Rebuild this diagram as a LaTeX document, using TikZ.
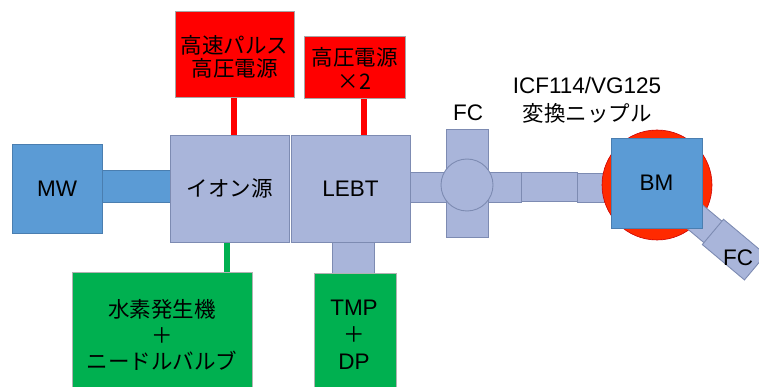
\documentclass[tikz,border=0pt]{standalone}
\usepackage{fontspec}
\usetikzlibrary{calc}
\setmainfont{Liberation Sans}
\newfontfamily\jp{Noto Sans CJK JP}
\definecolor{lav}{HTML}{A9B5DA}
\definecolor{lavline}{HTML}{7D8BB2}
\definecolor{bluebox}{HTML}{5B9BD5}
\definecolor{blueline}{HTML}{4A7EB0}
\definecolor{grn}{HTML}{00B050}
\definecolor{bmred}{HTML}{FF2A00}
\tikzset{
  lavbox/.style={draw=lavline, fill=lav, line width=0.9pt},
  bluepart/.style={draw=blueline, fill=bluebox, line width=0.9pt},
  redbox/.style={draw=gray!70, fill=red, line width=0.9pt},
  grnbox/.style={draw=gray!60, fill=grn, line width=0.9pt},
  lbl/.style={font=\fontsize{21.5}{25}\selectfont\jp, align=center, inner sep=0pt},
  lbllat/.style={font=\fontsize{22.5}{27}\selectfont, align=center, inner sep=0pt},
}
\begin{document}
\begin{tikzpicture}[x=1pt,y=-1pt]
\useasboundingbox (0,0) rectangle (759,387);
% red power supplies
\draw[red, line width=6pt] (234,97) -- (234,135);
\draw[red, line width=6pt] (364,98) -- (364,135);
\draw[grn, line width=6pt] (227,242) -- (227,272);
\node[redbox, minimum width=119pt, minimum height=86pt, inner sep=0pt] (hvp) at (234.5,54) {};
\node[lbl] at (234.5,56.5) {高速パルス\\[-2pt]高圧電源};
\node[redbox, minimum width=101pt, minimum height=62pt, inner sep=0pt] (hv2) at (354.5,67) {};
\node[lbl] at (354.5,68) {高圧電源\\[-1pt]×2};
% MW and waveguide
\node[bluepart, minimum width=68pt, minimum height=32pt, inner sep=0pt] (wg) at (136,186) {};
\node[bluepart, minimum width=90pt, minimum height=89pt, inner sep=0pt] (mw) at (57,188.5) {};
\node[lbllat] at (mw) {MW};
% ion source and LEBT
\node[lavbox, minimum width=119pt, minimum height=107pt, inner sep=0pt] (ion) at (229.5,188.5) {};
\node[lbl] at (ion) {イオン源};
\node[lavbox, minimum width=119pt, minimum height=107pt, inner sep=0pt] (lebt) at (350.5,188.5) {};
\node[lbllat] at (lebt) {LEBT};
% TMP port
\node[lavbox, minimum width=42pt, minimum height=31pt, inner sep=0pt] (port) at (353,257.5) {};
% green boxes
\node[grnbox, minimum width=180pt, minimum height=124pt, inner sep=0pt] (h2) at (162,334) {};
\node[lbl] at (162,335) {水素発生機\\[1pt]＋\\[1pt]ニードルバルブ};
\node[grnbox, minimum width=82pt, minimum height=123pt, inner sep=0pt] (tmp) at (355,334.5) {};
\node[lbllat] at (354,335) {TMP\\{\jp\fontsize{21.5}{27}\selectfont ＋}\\DP};
% beam line pipes
\node[lavbox, minimum width=111pt, minimum height=30pt, inner sep=0pt] (p1) at (465.5,187) {};
\node[lavbox, minimum width=42pt, minimum height=108pt, inner sep=0pt] (fcv) at (467,183) {};
\node[lavbox, circle, minimum size=52pt, inner sep=0pt] (fcc) at (467,185) {};
\node[lavbox, minimum width=56pt, minimum height=29pt, inner sep=0pt] (nip) at (549,186.5) {};
\node[lavbox, minimum width=48pt, minimum height=29pt, inner sep=0pt] (p3) at (601,187.5) {};
\node[lbllat] (fclbl) at (468,113) {FC};
\node[lbllat] (icf) at (587,85) {ICF114/VG125};
\node[lbl] (conv) at (587,113) {変換ニップル};
% bending magnet
\node[draw=red!80!black, fill=bmred, circle, minimum size=110pt, inner sep=0pt, line width=0.6pt] (bmc) at (657,185) {};
\node[lavbox, rotate=-40, minimum width=40pt, minimum height=28pt, inner sep=0pt] (p4) at ($(657,185)+(40:60)$) {};
\node[lavbox, rotate=-40, minimum width=55pt, minimum height=33pt, inner sep=0pt] (fc2) at ($(657,185)+(40:100.5)$) {};
\node[lbllat] at (738,258) {FC};
\node[bluepart, minimum width=91pt, minimum height=90pt, inner sep=0pt] (bm) at (656.5,183) {};
\node[lbllat] at (bm) {BM};
\end{tikzpicture}
\end{document}
